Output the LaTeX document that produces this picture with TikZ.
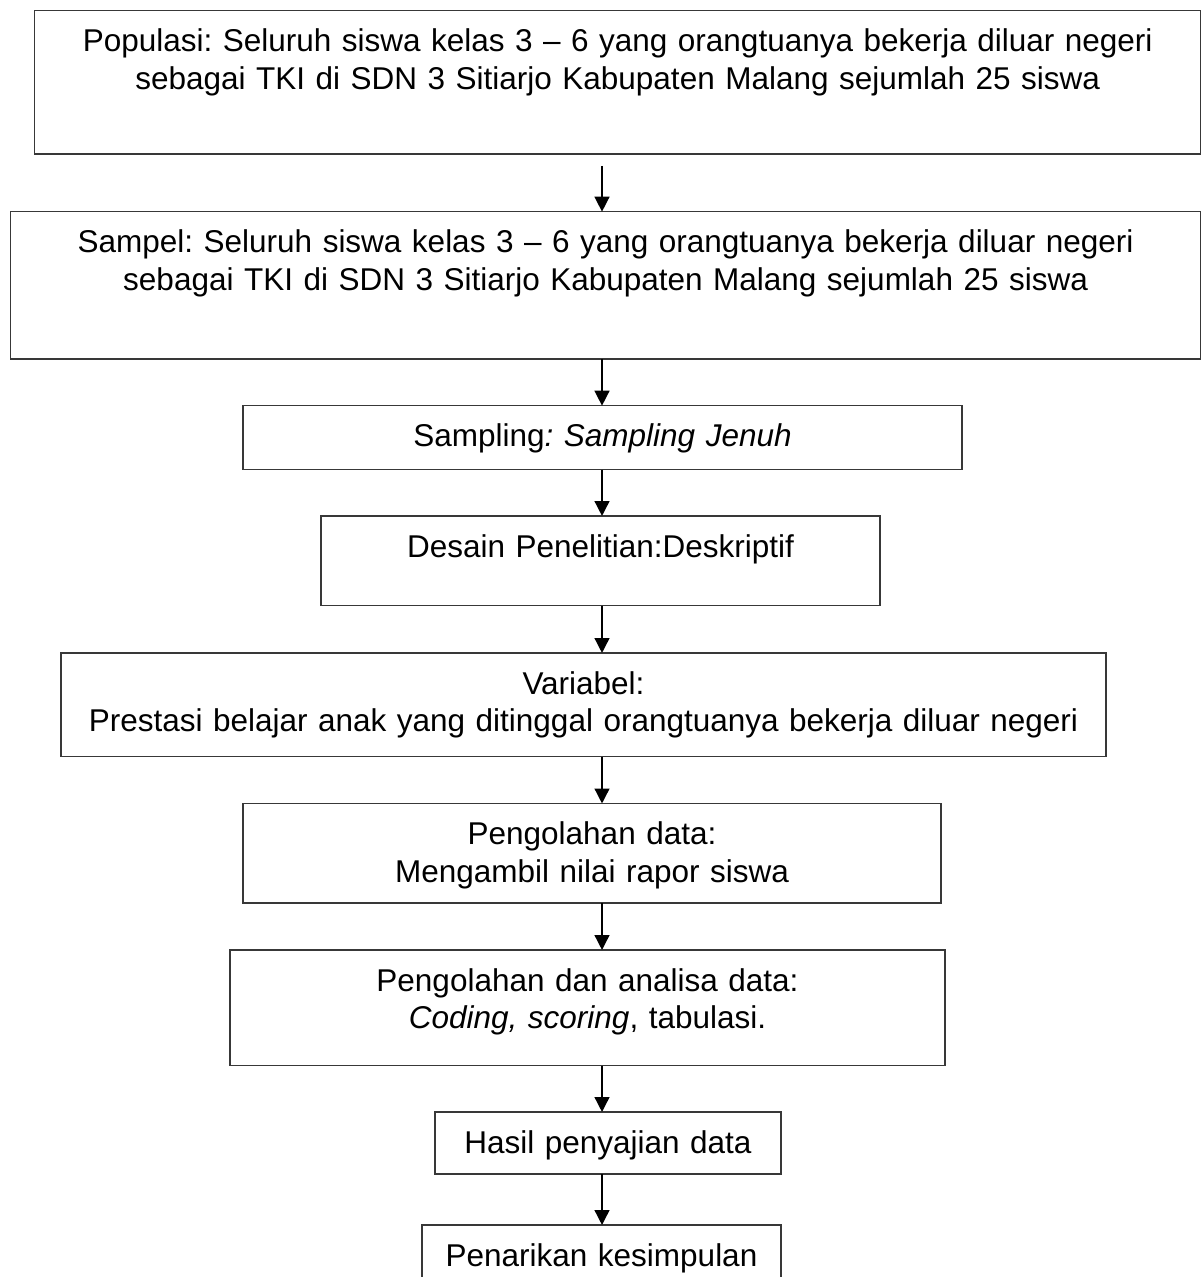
\documentclass[tikz,border=0pt]{standalone}
\usepackage{fontspec}
\setmainfont{Liberation Sans}
\usepackage{tikz}
\usetikzlibrary{arrows.meta}
\frenchspacing
\definecolor{FlowInk}{gray}{0}
\definecolor{FlowFrame}{gray}{0.22}
\tikzset{
    flow/diagram/.style={
        font=\fontsize{15.75}{18.75}\selectfont,
        text=FlowInk,
        line cap=butt,
        line join=miter,
        every node/.style={inner sep=0pt, outer sep=0pt}
    },
    flow/box/.style 2 args={
        draw=FlowFrame, line width=0.6pt,
        anchor=north west, align=center,
        text width=#1, text height=20.5pt, text depth=#2
    },
    flow/arrow/.style={
        draw=FlowInk, line width=1pt,
        -{Triangle[length=7.5pt, width=7.4pt]}
    }
}

\begin{document}
\begin{tikzpicture}[flow/diagram, x=0.5pt, y=-0.5pt]
    \useasboundingbox (0,0) rectangle (1202,1277);
    \coordinate (spine) at (602,0);
    \node[flow/box={583pt}{51.15pt}] (pop) at (34.7,10.7)
        {Populasi: Seluruh siswa kelas 3 -- 6 yang orangtuanya bekerja diluar negeri\\
         sebagai TKI di SDN 3 Sitiarjo Kabupaten Malang sejumlah 25 siswa};
    \node[flow/box={594.9pt}{53.15pt}] (sam) at (10.7,211.7)
        {Sampel: Seluruh siswa kelas 3 -- 6 yang orangtuanya bekerja diluar negeri\\
         sebagai TKI di SDN 3 Sitiarjo Kabupaten Malang sejumlah 25 siswa};
    \node[flow/box={359.5pt}{11.5pt}] (smp) at (243,405.7)
        {Sampling\textit{: Sampling Jenuh}};
    \node[flow/box={279.5pt}{24.35pt}] (des) at (321,516)
        {Desain Penelitian:Deskriptif};
    \node[flow/box={522.5pt}{31.35pt}] (var) at (61,653)
        {Variabel:\\
         Prestasi belajar anak yang ditinggal orangtuanya bekerja diluar negeri};
    \node[flow/box={349pt}{29.25pt}] (olah) at (243,803.5)
        {Pengolahan data:\\ Mengambil nilai rapor siswa};
    \node[flow/box={357.5pt}{37.35pt}] (anl) at (230,950)
        {Pengolahan dan analisa data:\\ \textit{Coding, scoring}, tabulasi.};
    \node[flow/box={173pt}{10.5pt}] (has) at (435,1112)
        {Hasil penyajian data};
    \node[flow/box={179.5pt}{10.5pt}] (tar) at (422,1225)
        {Penarikan kesimpulan};
    % alur
    \draw[flow/arrow, shorten <=6pt] (pop.south -| spine) -- (sam.north -| spine);
    \draw[flow/arrow] (sam.south -| spine) -- (smp.north -| spine);
    \draw[flow/arrow] (smp.south -| spine) -- (des.north -| spine);
    \draw[flow/arrow] (des.south -| spine) -- (var.north -| spine);
    \draw[flow/arrow] (var.south -| spine) -- (olah.north -| spine);
    \draw[flow/arrow] (olah.south -| spine) -- (anl.north -| spine);
    \draw[flow/arrow] (anl.south -| spine) -- (has.north -| spine);
    \draw[flow/arrow] (has.south -| spine) -- (tar.north -| spine);
\end{tikzpicture}
\end{document}
